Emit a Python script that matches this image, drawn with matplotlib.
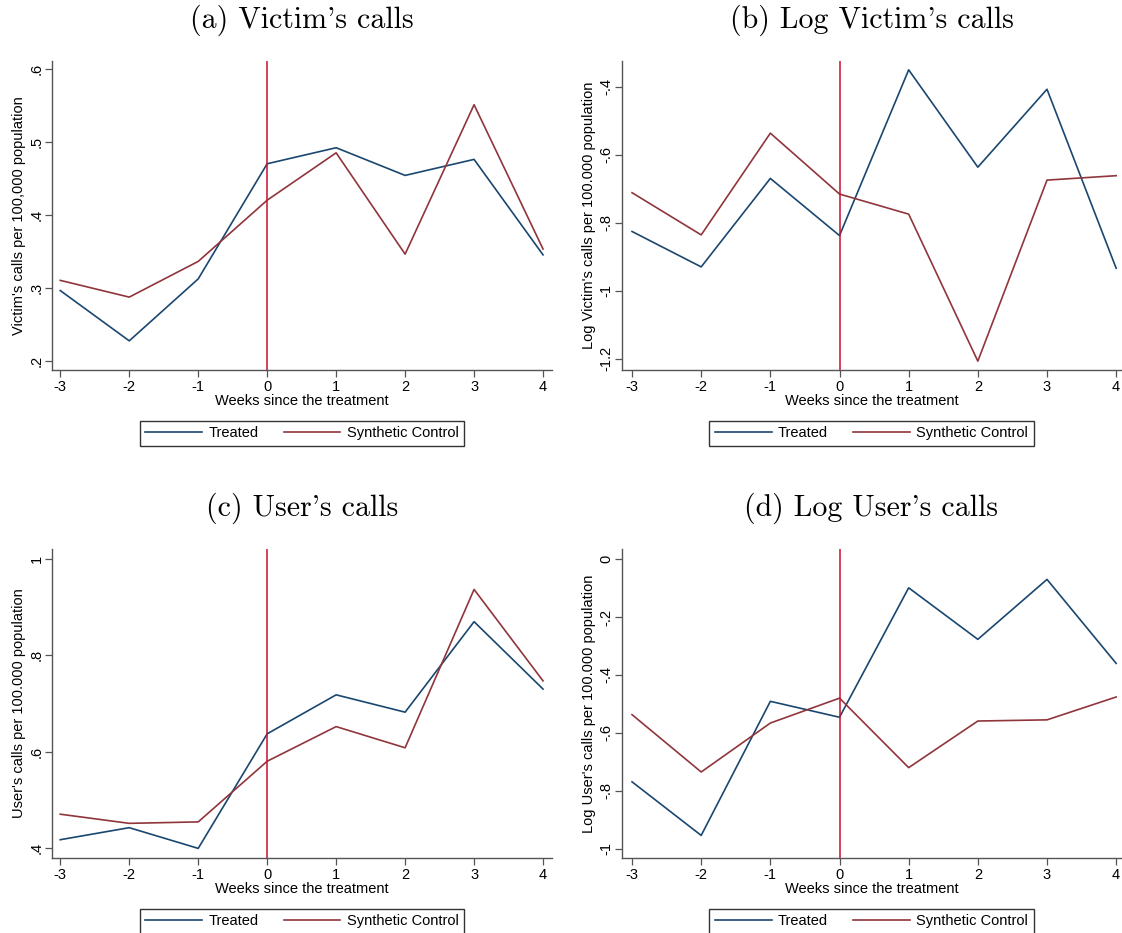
import matplotlib
matplotlib.use("Agg")
import matplotlib.pyplot as plt
from matplotlib.ticker import FuncFormatter, FixedLocator

weeks = [-3, -2, -1, 0, 1, 2, 3, 4]

victim_treated = [0.296, 0.227, 0.312, 0.470, 0.492, 0.454, 0.476, 0.345]
victim_synth = [0.310, 0.287, 0.336, 0.420, 0.485, 0.346, 0.551, 0.353]

logvictim_treated = [-0.826, -0.930, -0.670, -0.838, -0.351, -0.637, -0.408, -0.934]
logvictim_synth = [-0.712, -0.836, -0.537, -0.716, -0.775, -1.207, -0.675, -0.662]

user_treated = [0.417, 0.442, 0.399, 0.637, 0.718, 0.682, 0.870, 0.730]
user_synth = [0.470, 0.451, 0.454, 0.580, 0.652, 0.608, 0.937, 0.747]

loguser_treated = [-0.769, -0.954, -0.491, -0.546, -0.099, -0.277, -0.070, -0.360]
loguser_synth = [-0.537, -0.735, -0.566, -0.480, -0.720, -0.559, -0.555, -0.476]

titles = ["(a) Victim's calls", "(b) Log Victim's calls",
          "(c) User's calls", "(d) Log User's calls"]
ylabels = ["Victim's calls per 100,000 population",
           "Log Victim's calls per 100.000 population",
           "User's calls per 100.000 population",
           "Log User's calls per 100.000 population"]
yticks = [[0.2, 0.3, 0.4, 0.5, 0.6],
          [-1.2, -1.0, -0.8, -0.6, -0.4],
          [0.4, 0.6, 0.8, 1.0],
          [-1.0, -0.8, -0.6, -0.4, -0.2, 0.0]]
ylims = [(0.187, 0.611), (-1.233, -0.325), (0.379, 1.021), (-1.032, 0.035)]
xlabel = "Weeks since the treatment"
legend_labels = ["Treated", "Synthetic Control"]

series = [(victim_treated, victim_synth), (logvictim_treated, logvictim_synth),
          (user_treated, user_synth), (loguser_treated, loguser_synth)]

plt.rcParams['font.family'] = ['Liberation Sans', 'DejaVu Sans']

W, H = 1122, 933
fig = plt.figure(figsize=(W / 100, H / 100), dpi=100)

boxes = [(52, 552, 61, 370), (622, 1121, 61, 370),
         (52, 552, 549, 858), (622, 1121, 549, 858)]
xlims = [(-3.12, 4.13), (-3.145, 4.07), (-3.12, 4.13), (-3.145, 4.07)]

navy = "#1a476f"
maroon = "#90353b"
vred = "#c8102e"


def fmt(v, pos):
    s = "%g" % round(v, 6)
    if s == "-0":
        s = "0"
    s = s.replace("0.", ".")
    return s


for i in range(4):
    l, r, t, b = boxes[i]
    ax = fig.add_axes([l / W, (H - b) / H, (r - l) / W, (b - t) / H])
    tr, sy = series[i]
    ax.plot(weeks, tr, color=navy, lw=1.2, label=legend_labels[0])
    ax.plot(weeks, sy, color=maroon, lw=1.2, label=legend_labels[1])
    ax.axvline(0, color=vred, lw=1.1)
    ax.set_xlim(*xlims[i])
    ax.set_ylim(*ylims[i])
    ax.set_xticks(weeks)
    ax.yaxis.set_major_locator(FixedLocator(yticks[i]))
    ax.yaxis.set_major_formatter(FuncFormatter(fmt))
    ax.xaxis.set_major_formatter(FuncFormatter(lambda v, p: "%d" % v))
    for s in ["top", "right"]:
        ax.spines[s].set_visible(False)
    for s in ["left", "bottom"]:
        ax.spines[s].set_color("#555555")
        ax.spines[s].set_linewidth(1.0)
    ax.tick_params(axis='both', direction='out', length=5, width=0.9,
                   color="#555555", labelsize=10.5, labelcolor="black")
    ax.tick_params(axis='x', pad=2)
    for lab in ax.get_yticklabels():
        lab.set_rotation(90)
        lab.set_va('center')
        lab.set_ha('center')
    ax.tick_params(axis='y', pad=6)
    ax.set_xlabel(xlabel, fontsize=10.5, labelpad=0)
    ax.set_ylabel(ylabels[i], fontsize=10.5, labelpad=3)
    ax.set_title(titles[i], fontsize=21.5, family=['cmr10', 'DejaVu Serif'],
                 pad=24)
    leg = ax.legend(loc='upper center', bbox_to_anchor=(0.5, -0.14), ncol=2,
                    frameon=True, fancybox=False, edgecolor='black',
                    fontsize=10.5, handlelength=3.9, columnspacing=1.7,
                    borderpad=0.38, handletextpad=0.45)
    leg.get_frame().set_linewidth(1.0)
fig.savefig("out.png", dpi=100, facecolor="white")
